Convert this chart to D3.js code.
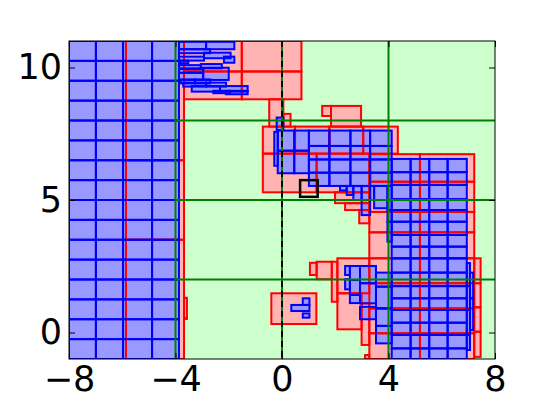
<!DOCTYPE html>
<html><head><meta charset="utf-8">
<script src="https://cdn.jsdelivr.net/npm/d3@7"></script>
<style>body{margin:0;background:#fff}</style>
</head><body>
<svg id="c" width="550" height="400"></svg>
<script>
// ---- data ----
const xTicks = [-8, -4, 0, 4, 8];
const yTicks = [0, 5, 10];
const splitX = [-4, 0, 4];          // green vertical splits
const splitY = [2, 5, 8];           // green horizontal splits (from x=-4)
const dashX = [0];
const markBox = [0.68, 1.34, 5.12, 5.75];

// blue grids: column edges / row edges
const leftCols = [-8, -6.99, -5.97, -4.88, -3.87];
const leftRows = [-1, -0.25, 0.5, 1.25, 2, 2.75, 3.5, 4.25, 5, 5.75, 6.5, 7.25, 8, 8.75, 9.5, 10.25, 11];
const rightCols = [4.12, 4.83, 5.53, 6.22, 6.94];
const rightRows = [-1, -0.6, -0.09, 0.37, 0.85, 1.29, 1.75, 2.26, 2.8, 3.24, 3.68, 4.18, 4.62, 5.03, 5.57, 6.05, 6.55];
const midCols = [1.01, 1.78, 2.57, 3.31, 4.12];
const midRows = [5.53, 6.03, 6.53, 7.04, 7.62];

// red grid on the right
const redRightCols = [3.28, 5.18, 7.22];
const redRightRows = [-1, -0.03, 0.91, 1.86, 2.80, 3.78, 4.55, 5.69, 6.73];

// other red boxes [x0, x1, y0, y1]
const redBoxes = [
  [-8, -5.86, -1, 11], [-5.86, -3.68, -1, 3.5], [-5.86, -3.68, 3.5, 6.5], [-5.86, -3.68, 6.5, 11],
  [-3.68, -3.57, 0.51, 1.31],
  [-3.68, -1.51, 9.85, 11], [-3.68, -1.51, 8.8, 9.85], [-1.51, 0.73, 9.85, 11], [-1.51, 0.73, 8.8, 9.85],
  [-0.48, 0.05, 7.77, 8.8], [0.05, 0.32, 7.77, 8.25],
  [1.51, 1.84, 8.17, 8.55], [1.84, 2.97, 7.77, 8.55],
  [-0.72, 0.49, 6.75, 7.77], [0.49, 1.78, 6.75, 7.77], [1.78, 3.05, 6.75, 7.77], [3.05, 4.35, 6.75, 7.77],
  [-0.72, 1.30, 5.29, 6.75], [1.30, 3.28, 5.29, 6.75], [1.99, 3.28, 4.88, 5.29], [2.37, 3.28, 4.62, 4.88],
  [2.90, 3.28, 4.12, 4.62],
  [7.22, 7.46, 1.86, 2.80], [7.22, 7.46, 0.95, 1.86], [7.22, 7.46, 0.03, 0.95], [7.22, 7.46, -0.92, 0.03],
  [1.05, 1.30, 2.17, 2.63], [1.30, 1.87, 2.01, 2.67], [1.87, 2.08, 1.16, 2.67], [2.08, 3.28, 1.48, 2.80],
  [2.08, 2.99, 0.12, 1.48], [2.99, 3.28, -0.47, 1.10], [3.12, 3.28, -1, -0.85],
  [-0.40, 1.29, 0.32, 1.48]
];

// other blue boxes [x0, x1, y0, y1]
const blueBoxes = [
  // top-left bars
  [-3.87, -2.85, 10.69, 10.97], [-2.85, -1.79, 10.69, 10.97], [-3.87, -2.70, 10.54, 10.69],
  [-2.93, -1.93, 10.35, 10.56], [-3.87, -2.93, 10.26, 10.41], [-2.18, -1.79, 10.18, 10.41],
  [-3.83, -3.52, 10.16, 10.26], [-3.05, -2.26, 9.97, 10.13], [-3.87, -3.05, 9.94, 10.09],
  [-3.87, -2.96, 9.80, 9.97], [-2.96, -2.00, 9.53, 9.99], [-3.87, -2.96, 9.53, 9.80],
  [-3.80, -3.27, 9.40, 9.55], [-3.27, -2.70, 9.40, 9.55], [-3.71, -2.85, 9.28, 9.43],
  [-2.85, -2.10, 9.28, 9.43], [-3.39, -2.33, 9.09, 9.30], [-2.33, -1.29, 9.09, 9.30],
  [-2.58, -1.95, 9.03, 9.12], [-2.11, -1.29, 8.99, 9.12],
  // middle-left cells
  [-0.20, 0.05, 7.64, 8.11], [-0.29, -0.16, 6.29, 7.57], [-0.16, 0.46, 6.86, 7.62], [0.46, 1.01, 6.86, 7.62],
  [-0.16, 0.46, 6.01, 6.86], [0.46, 1.01, 6.01, 6.86],
  // staircase
  [2.18, 2.43, 5.36, 5.53], [2.43, 2.68, 5.19, 5.53], [2.68, 2.99, 5.0, 5.53], [2.99, 3.31, 4.43, 5.53],
  [3.31, 3.46, 5.0, 5.53], [3.46, 3.96, 4.69, 5.53], [3.96, 4.12, 4.62, 5.53], [3.96, 4.12, 4.18, 4.62],
  [3.96, 4.12, 3.43, 4.18],
  // lower cluster
  [2.37, 2.55, 2.17, 2.51], [2.37, 2.55, 1.63, 2.01], [2.55, 2.93, 1.98, 2.51], [2.55, 2.93, 1.42, 1.98],
  [2.55, 2.93, 1.11, 1.42], [2.93, 3.53, 1.86, 2.51], [2.93, 3.53, 1.10, 1.86], [2.93, 3.53, 0.50, 0.97],
  [3.53, 4.12, 1.73, 2.26], [3.53, 4.12, 0.91, 1.73], [3.53, 4.12, 0.25, 0.91], [3.53, 4.12, -0.41, 0.25],
  // right thin strips
  [6.94, 7.06, 1.75, 2.62], [6.94, 7.06, 0.85, 1.75], [6.94, 7.06, -0.09, 0.85], [6.94, 7.06, -0.66, -0.09],
  [7.06, 7.18, 1.29, 2.26], [7.06, 7.18, 0.09, 1.29],
  // small cluster
  [0.35, 1.03, 0.81, 1.04], [0.78, 1.03, 1.04, 1.29], [0.78, 1.03, 0.56, 0.72]
];

// ---- build ----
function gridCells(cols, rows) {
  const out = [];
  for (let i = 0; i < cols.length - 1; i++)
    for (let j = 0; j < rows.length - 1; j++)
      out.push([cols[i], cols[i + 1], rows[j], rows[j + 1]]);
  return out;
}
const reds = gridCells(redRightCols, redRightRows).concat(redBoxes);
const blues = gridCells(leftCols, leftRows).concat(gridCells(rightCols, rightRows), gridCells(midCols, midRows), blueBoxes);

const W = 550, H = 400, L = 69, T = 41, R = 495, B = 359;
const x = d3.scaleLinear().domain([-8, 8]).range([L, R]);
const y = d3.scaleLinear().domain([-1, 11]).range([B, T]);
const svg = d3.select("#c");

svg.append("defs").append("clipPath").attr("id", "clip")
  .append("rect").attr("x", L).attr("y", T).attr("width", R - L).attr("height", B - T);

const g = svg.append("g").attr("clip-path", "url(#clip)");
g.append("rect").attr("x", L).attr("y", T).attr("width", R - L).attr("height", B - T).attr("fill", "#ccffcc");

function boxes(sel, data, fill, stroke) {
  sel.selectAll(null).data(data).enter().append("rect")
    .attr("x", d => x(d[0])).attr("y", d => y(d[3]))
    .attr("width", d => x(d[1]) - x(d[0])).attr("height", d => y(d[2]) - y(d[3]))
    .attr("fill", fill).attr("stroke", stroke).attr("stroke-width", 2);
}
const gRF = g.append("g"), gBF = g.append("g"), gRS = g.append("g"), gBS = g.append("g");
boxes(gRF, reds, "#ffb3b3", "none");
boxes(gBF, blues, "#9999ff", "none");
boxes(gRS, reds, "none", "#ff0000");
boxes(gBS, blues, "none", "#0000ff");

// green splits
g.selectAll(null).data(splitX).enter().append("line")
  .attr("x1", d => x(d)).attr("x2", d => x(d)).attr("y1", T).attr("y2", B)
  .attr("stroke", "#008000").attr("stroke-width", 2);
g.selectAll(null).data(splitY).enter().append("line")
  .attr("x1", x(-4)).attr("x2", R).attr("y1", d => y(d)).attr("y2", d => y(d))
  .attr("stroke", "#008000").attr("stroke-width", 2);
// dashed black
g.selectAll(null).data(dashX).enter().append("line")
  .attr("x1", d => x(d)).attr("x2", d => x(d)).attr("y1", T).attr("y2", B)
  .attr("stroke", "#000").attr("stroke-width", 2).attr("stroke-dasharray", "6,4");
// marker box
g.append("rect").attr("x", x(markBox[0])).attr("y", y(markBox[3]))
  .attr("width", x(markBox[1]) - x(markBox[0])).attr("height", y(markBox[2]) - y(markBox[3]))
  .attr("fill", "none").attr("stroke", "#000").attr("stroke-width", 2.5);

// frame
svg.append("rect").attr("x", L).attr("y", T).attr("width", R - L).attr("height", B - T)
  .attr("fill", "none").attr("stroke", "#000").attr("stroke-width", 1);

const fmt = d => (d < 0 ? "\u2212" + Math.abs(d) : "" + d);
const font = "DejaVu Sans";
const ax1 = svg.append("g").attr("transform", `translate(0,${B})`)
  .call(d3.axisBottom(x).tickValues(xTicks).tickFormat(fmt).tickSize(-6).tickPadding(7));
const ax2 = svg.append("g").attr("transform", `translate(${L},0)`)
  .call(d3.axisLeft(y).tickValues(yTicks).tickFormat(fmt).tickSize(-6).tickPadding(7));
const ax3 = svg.append("g").attr("transform", `translate(0,${T})`)
  .call(d3.axisTop(x).tickValues(xTicks).tickFormat("").tickSize(-6));
const ax4 = svg.append("g").attr("transform", `translate(${R},0)`)
  .call(d3.axisRight(y).tickValues(yTicks).tickFormat("").tickSize(-6));
[ax1, ax2, ax3, ax4].forEach(a => {
  a.select(".domain").remove();
  a.selectAll("text").attr("font-family", font).attr("font-size", 35).attr("fill", "#000");
  a.selectAll("line").attr("stroke", "#000");
});
</script>
</body></html>
